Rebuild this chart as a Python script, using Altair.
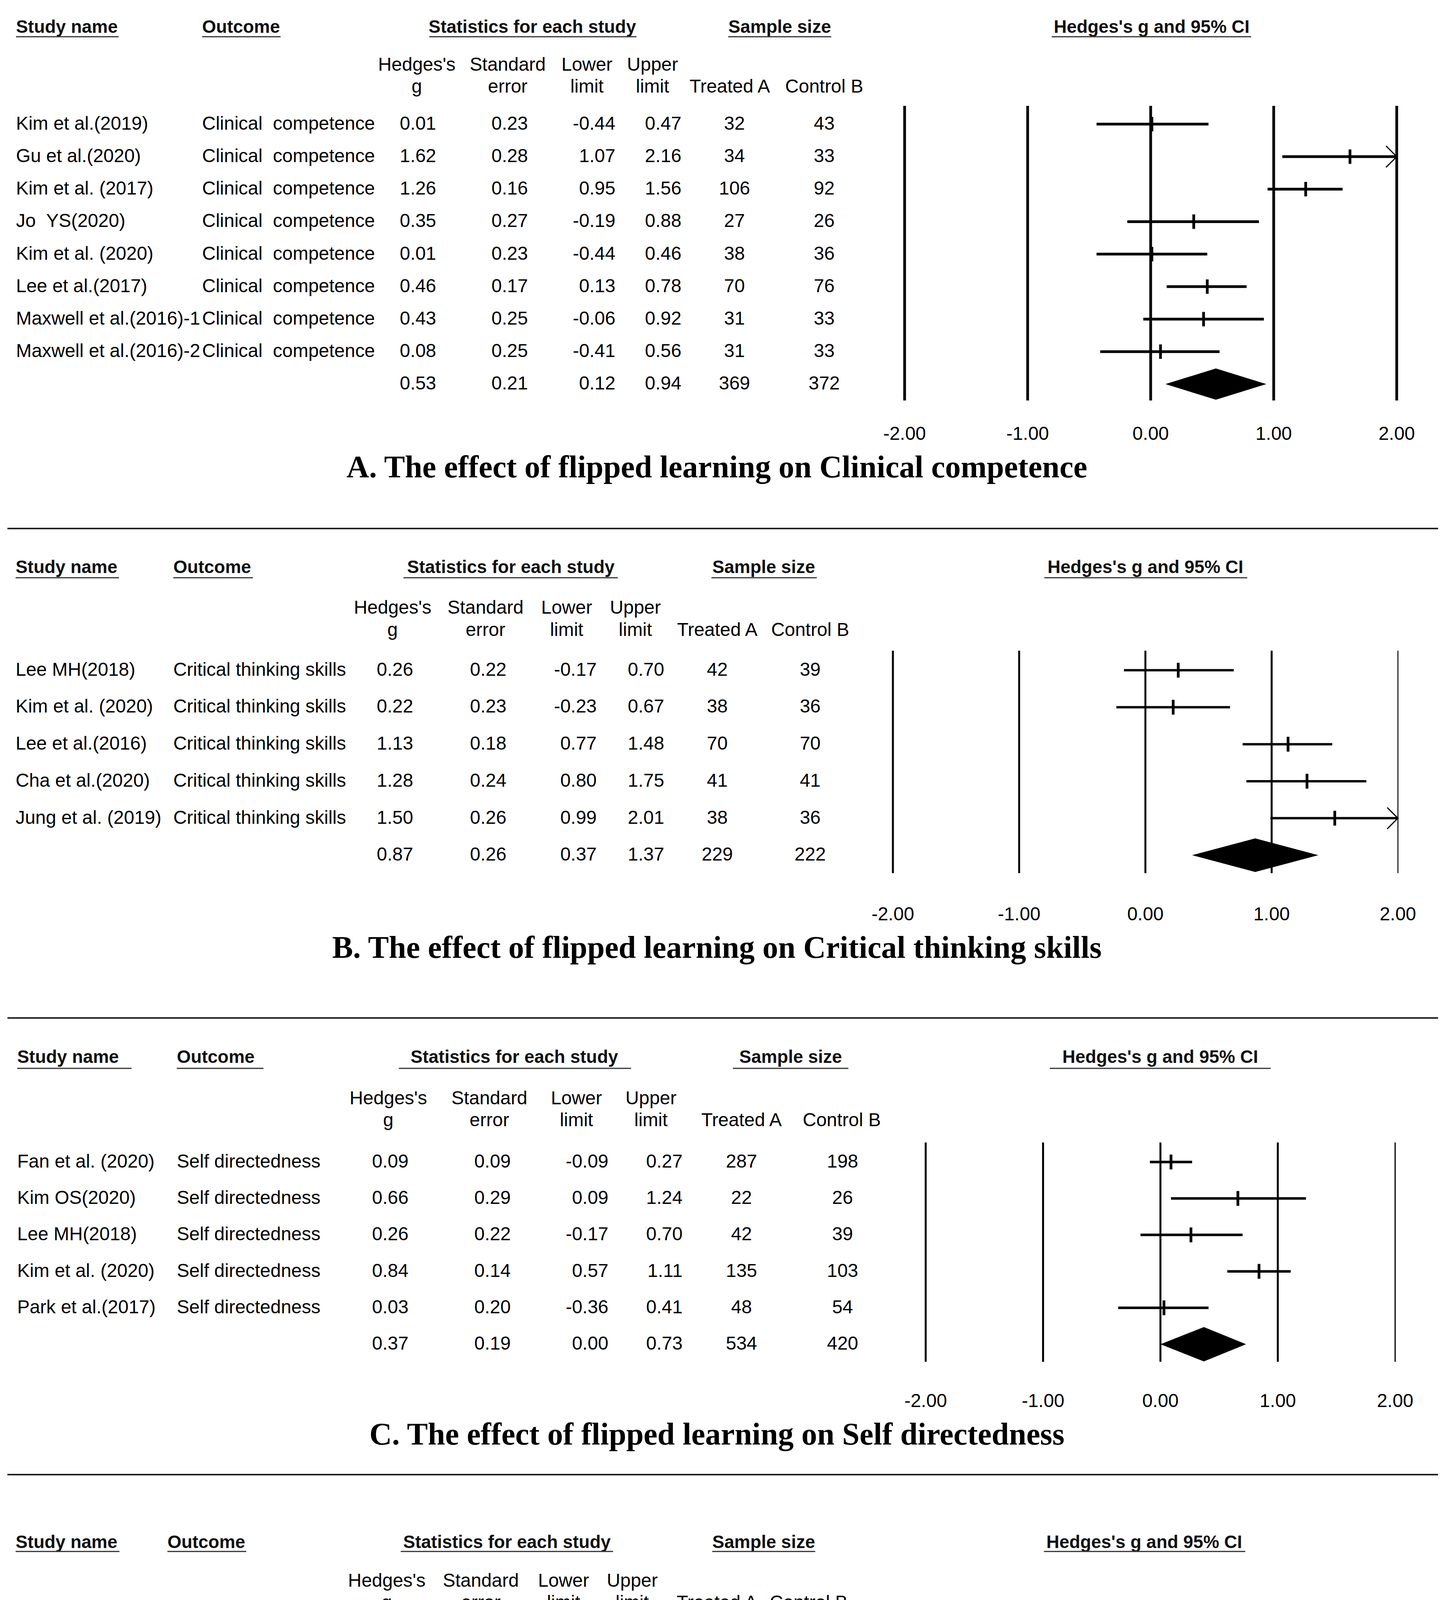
import altair as alt
import pandas as pd

# ---------------- data ----------------
A_study = ["Kim et al.(2019)", "Gu et al.(2020)", "Kim et al. (2017)", "Jo \u00a0YS(2020)",
           "Kim et al. (2020)", "Lee et al.(2017)", "Maxwell et al.(2016)-1", "Maxwell et al.(2016)-2"]
A_outcome = "Clinical \u00a0competence"
A_g = [0.01, 1.62, 1.26, 0.35, 0.01, 0.46, 0.43, 0.08]
A_se = [0.23, 0.28, 0.16, 0.27, 0.23, 0.17, 0.25, 0.25]
A_lo = [-0.44, 1.07, 0.95, -0.19, -0.44, 0.13, -0.06, -0.41]
A_hi = [0.47, 2.16, 1.56, 0.88, 0.46, 0.78, 0.92, 0.56]
A_nt = [32, 34, 106, 27, 38, 70, 31, 31]
A_nc = [43, 33, 92, 26, 36, 76, 33, 33]
A_sum = [0.53, 0.21, 0.12, 0.94, 369, 372]

B_study = ["Lee MH(2018)", "Kim et al. (2020)", "Lee et al.(2016)", "Cha et al.(2020)", "Jung et al. (2019)"]
B_outcome = "Critical thinking skills"
B_g = [0.26, 0.22, 1.13, 1.28, 1.50]
B_se = [0.22, 0.23, 0.18, 0.24, 0.26]
B_lo = [-0.17, -0.23, 0.77, 0.80, 0.99]
B_hi = [0.70, 0.67, 1.48, 1.75, 2.01]
B_nt = [42, 38, 70, 41, 38]
B_nc = [39, 36, 70, 41, 36]
B_sum = [0.87, 0.26, 0.37, 1.37, 229, 222]

C_study = ["Fan et al. (2020)", "Kim OS(2020)", "Lee MH(2018)", "Kim et al. (2020)", "Park et al.(2017)"]
C_outcome = "Self directedness"
C_g = [0.09, 0.66, 0.26, 0.84, 0.03]
C_se = [0.09, 0.29, 0.22, 0.14, 0.20]
C_lo = [-0.09, 0.09, -0.17, 0.57, -0.36]
C_hi = [0.27, 1.24, 0.70, 1.11, 0.41]
C_nt = [287, 22, 42, 135, 48]
C_nc = [198, 26, 39, 103, 54]
C_sum = [0.37, 0.19, 0.00, 0.73, 534, 420]

D_study = ["Kim et al.(2017)", "Kim et al. (2017)", "Fan et al. (2020)", "Cho et al. (2019)",
           "Lee et al.(2017)", "Im et al.(2019)"]
D_outcome = "Learning satisfaction"
D_g = [1.00, 1.73, 0.55, 0.44, 0.43, 0.58]
D_se = [0.25, 0.17, 0.09, 0.25, 0.17, 0.24]
D_lo = [0.50, 1.40, 0.37, -0.06, 0.10, 0.11]
D_hi = [1.49, 2.05, 0.74, 0.94, 0.75, 1.05]
D_nt = [35, 106, 287, 59, 70, 34]
D_nc = [34, 92, 198, 21, 76, 36]
D_sum = [0.79, 0.22, 0.36, 1.22, 591, 457]

CAPTIONS = ["A. The effect of flipped learning on Clinical competence",
            "B. The effect of flipped learning on Critical thinking skills",
            "C. The effect of flipped learning on Self directedness",
            "D. The effect of flipped learning on Learning satisfaction"]

HEADERS = ["Study name", "Outcome", "Statistics for each study", "Sample size", "Hedges's g and 95% CI"]
SUB1 = ["Hedges's", "Standard", "Lower", "Upper", "", ""]
SUB2 = ["g", "error", "limit", "limit", "Treated A", "Control B"]
TICKS = [-2, -1, 0, 1, 2]
TICK_LABELS = ["-2.00", "-1.00", "0.00", "1.00", "2.00"]

# ---------------- layout (pixels, per panel) ----------------
LAY = {
    "A": dict(height=1344, head_y=60, ul_y=84, sub=(157, 213), row0=308, rowN=974,
              ref=(261, 1016), xl=2310, xr=3571, axis_y=1103, cap_y=1189,
              refw=7, lastw=7, lastc="black", ciw=7, tickh=37, tickw=7, dh=40,
              cols=[33, 510, 1063, 1298, 1569, 1738, 1874, 2104],
              subx=[1060, 1293, 1496, 1664, 1862, 2104],
              headx=[33, 510, 1356, 1990, 2943],
              ul=[(33, 296), (510, 711), (1092, 1623), (1858, 2122), (2687, 3198)],
              top_sep=None, bot_sep=None),
    "B": dict(height=1254, head_y=100, ul_y=126, sub=(204, 261), row0=363, rowN=837,
              ref=(313, 883), xl=2280, xr=3574, axis_y=990, cap_y=1076,
              refw=5, lastw=4, lastc="#555555", ciw=6, tickh=38, tickw=7, dh=43,
              cols=[32, 436, 1004, 1243, 1521, 1694, 1830, 2068],
              subx=[998, 1236, 1444, 1620, 1830, 2068],
              headx=[32, 436, 1301, 1949, 2927],
              ul=[(32, 297), (436, 640), (1026, 1575), (1815, 2085), (2668, 3188)],
              top_sep=0, bot_sep=None),
    "C": dict(height=1170, head_y=101, ul_y=129, sub=(207, 263), row0=369, rowN=836,
              ref=(319, 881), xl=2364, xr=3567, axis_y=983, cap_y=1069,
              refw=5, lastw=4, lastc="#333333", ciw=6.5, tickh=38, tickw=7, dh=44,
              cols=[36, 445, 992, 1254, 1551, 1741, 1892, 2151],
              subx=[987, 1246, 1469, 1660, 1892, 2149],
              headx=[36, 445, 1310, 2018, 2965],
              ul=[(36, 329), (445, 667), (1014, 1609), (1870, 2166), (2682, 3248)],
              top_sep=0, bot_sep=None),
    "D": dict(height=1393, head_y=174, ul_y=197, sub=(273, 329), row0=430, rowN=974,
              ref=(384, 1021), xl=2281, xr=3565, axis_y=1118, cap_y=1202,
              refw=5, lastw=4, lastc="#555555", ciw=7, tickh=36, tickw=7, dh=42,
              cols=[32, 421, 990, 1233, 1511, 1688, 1829, 2067],
              subx=[983, 1224, 1436, 1612, 1829, 2064],
              headx=[32, 421, 1291, 1949, 2924],
              ul=[(32, 298), (421, 623), (1019, 1563), (1817, 2081), (2667, 3183)],
              top_sep=0, bot_sep=1362),
}
WIDTH = 3676
CAP_X = 1829
SANS = "Liberation Sans"
SERIF = "Liberation Serif"
ONE = pd.DataFrame({"k": [0]})


def label(txt, x, y, size=48, bold=False, align="center", font=SANS, color="black"):
    return alt.Chart(ONE).mark_text(
        text=txt, font=font, fontSize=size, fontWeight="bold" if bold else "normal",
        align=align, baseline="middle", color=color
    ).encode(x=alt.value(x), y=alt.value(y))


def hline(x1, x2, y, w, color="#222222"):
    return alt.Chart(ONE).mark_rule(strokeWidth=w, color=color).encode(
        x=alt.value(x1), x2=alt.value(x2), y=alt.value(y))


def fmt2(v):
    return f"{v:.2f}"


def panel(study, outcome, g, se, lo, hi, nt, nc, summ, caption, L):
    n = len(study)
    df = pd.DataFrame({
        "row": list(range(n + 1)),
        "study": study + [""],
        "outcome": [outcome] * n + [""],
        "g_t": [fmt2(v) for v in g + [summ[0]]],
        "se_t": [fmt2(v) for v in se + [summ[1]]],
        "lo_t": [fmt2(v) for v in lo + [summ[2]]],
        "hi_t": [fmt2(v) for v in hi + [summ[3]]],
        "nt_t": [str(v) for v in nt + [summ[4]]],
        "nc_t": [str(v) for v in nc + [summ[5]]],
    })
    st = pd.DataFrame({"row": list(range(n)), "g": g, "lo": lo,
                       "hi": [min(v, 2.0) for v in hi], "clipped": [v > 2.0 for v in hi]})
    arrows = st[st["clipped"]]
    spacing = (L["rowN"] - L["row0"]) / n
    d = L["dh"] / spacing
    dia = pd.DataFrame({"x": [summ[2], summ[0], summ[3]],
                        "y": [n, n - d, n], "y2": [n, n + d, n]})
    tk = pd.DataFrame({"t": TICKS, "lab": TICK_LABELS})

    ysc = alt.Scale(domain=[0, n], range=[L["row0"], L["rowN"]])
    xsc = alt.Scale(domain=[-2, 2], range=[L["xl"], L["xr"]])
    Y = alt.Y("row:Q", scale=ysc, axis=None)

    layers = []
    # header labels and underlines
    aligns = ["left", "left", "center", "center", "center"]
    for txt, x, a in zip(HEADERS, L["headx"], aligns):
        layers.append(label(txt, x, L["head_y"], size=46, bold=True, align=a, color="#111111"))
    for x1, x2 in L["ul"]:
        layers.append(hline(x1, x2, L["ul_y"], 3, "#333333"))
    # sub headers
    for t1, t2, x in zip(SUB1, SUB2, L["subx"]):
        if t1:
            layers.append(label(t1, x, L["sub"][0]))
        layers.append(label(t2, x, L["sub"][1]))
    # table columns
    fields = ["study", "outcome", "g_t", "se_t", "lo_t", "hi_t", "nt_t", "nc_t"]
    calign = ["left", "left", "center", "center", "right", "right", "center", "center"]
    for f, x, a in zip(fields, L["cols"], calign):
        layers.append(alt.Chart(df).mark_text(font=SANS, fontSize=48, align=a, baseline="middle",
                                              color="black")
                      .encode(x=alt.value(x), y=Y, text=f"{f}:N"))
    # reference lines
    tk_main = tk[tk["t"] < 2]
    tk_last = tk[tk["t"] == 2]
    layers.append(alt.Chart(tk_main).mark_rule(strokeWidth=L["refw"], color="black").encode(
        x=alt.X("t:Q", scale=xsc, axis=None), y=alt.value(L["ref"][0]), y2=alt.value(L["ref"][1])))
    layers.append(alt.Chart(tk_last).mark_rule(strokeWidth=L["lastw"], color=L["lastc"]).encode(
        x=alt.X("t:Q", scale=xsc, axis=None), y=alt.value(L["ref"][0]), y2=alt.value(L["ref"][1])))
    layers.append(alt.Chart(tk).mark_text(font=SANS, fontSize=48, align="center", baseline="middle",
                                          color="black").encode(
        x=alt.X("t:Q", scale=xsc, axis=None), y=alt.value(L["axis_y"]), text="lab:N"))
    # confidence intervals
    layers.append(alt.Chart(st).mark_rule(strokeWidth=L["ciw"], color="black").encode(
        x=alt.X("lo:Q", scale=xsc, axis=None), x2="hi:Q", y=Y))
    layers.append(alt.Chart(st).mark_tick(orient="vertical", size=L["tickh"], thickness=L["tickw"],
                                          color="black", opacity=1).encode(
        x=alt.X("g:Q", scale=xsc, axis=None), y=Y))
    if len(arrows):
        layers.append(alt.Chart(arrows).mark_point(shape="M-1,-1L0,0L-1,1", filled=False,
                                                   stroke="black", strokeWidth=3, size=3000,
                                                   opacity=1).encode(
            x=alt.X("hi:Q", scale=xsc, axis=None), y=Y))
    # summary diamond
    layers.append(alt.Chart(dia).mark_area(orient="vertical", color="black", opacity=1).encode(
        x=alt.X("x:Q", scale=xsc, axis=None),
        y=alt.Y("y:Q", scale=ysc, axis=None), y2="y2:Q"))
    # caption
    layers.append(label(caption, CAP_X, L["cap_y"], size=80, bold=True, font=SERIF))
    # separators
    if L["top_sep"] is not None:
        layers.append(hline(11, 3677, L["top_sep"], 4, "#222222"))
    if L["bot_sep"] is not None:
        layers.append(hline(11, 3677, L["bot_sep"], 4, "#444444"))

    return alt.layer(*layers).properties(width=WIDTH, height=L["height"])


pA = panel(A_study, A_outcome, A_g, A_se, A_lo, A_hi, A_nt, A_nc, A_sum, CAPTIONS[0], LAY["A"])
pB = panel(B_study, B_outcome, B_g, B_se, B_lo, B_hi, B_nt, B_nc, B_sum, CAPTIONS[1], LAY["B"])
pC = panel(C_study, C_outcome, C_g, C_se, C_lo, C_hi, C_nt, C_nc, C_sum, CAPTIONS[2], LAY["C"])
pD = panel(D_study, D_outcome, D_g, D_se, D_lo, D_hi, D_nt, D_nc, D_sum, CAPTIONS[3], LAY["D"])

chart = alt.vconcat(pA, pB, pC, pD, spacing=0, bounds="flush").properties(
    padding=0, background="white"
).configure_view(stroke=None)

chart.save("out.html", embed_options={"renderer": "svg", "actions": False})
